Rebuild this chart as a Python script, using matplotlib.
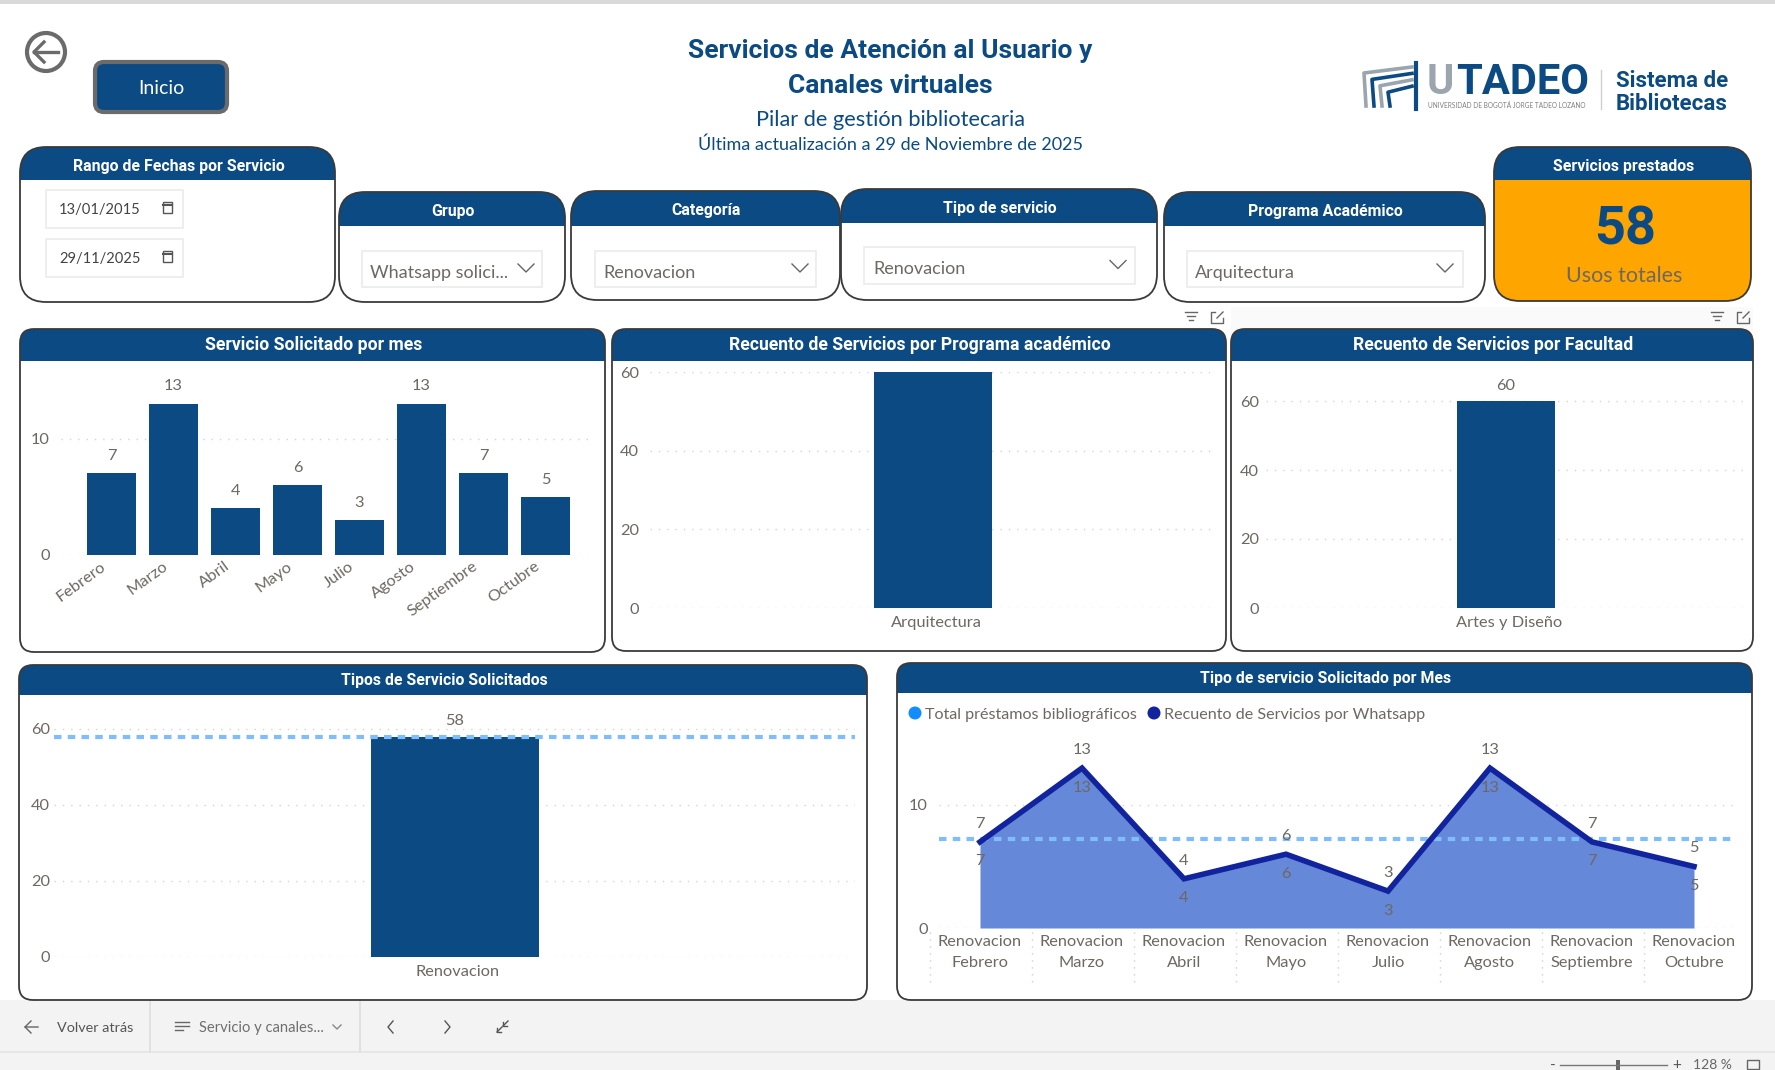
import matplotlib
matplotlib.use('Agg')
import matplotlib.pyplot as plt
from matplotlib.patches import FancyBboxPatch, Rectangle, Circle
from matplotlib.transforms import ScaledTranslation

W, H = 1775, 1070
NAVY = '#0B4A82'
GREY = '#6E6862'
TITLE_FONT = 'Roboto'
BODY_FONT = 'Lato'
LABEL_SIZE = 11.8

meses = ['Febrero', 'Marzo', 'Abril', 'Mayo', 'Julio', 'Agosto', 'Septiembre', 'Octubre']
servicios_mes = [7, 13, 4, 6, 3, 13, 7, 5]
programas = ['Arquitectura']
servicios_programa = [60]
facultades = ['Artes y Diseño']
servicios_facultad = [60]
tipos = ['Renovacion']
servicios_tipo = [58]
promedio_mes = 7.25

fig = plt.figure(figsize=(W / 100, H / 100), dpi=100, facecolor='white')
bg = fig.add_axes([0, 0, 1, 1])
bg.set_xlim(0, W)
bg.set_ylim(H, 0)
bg.axis('off')


def txt(x, y, s, size, color=GREY, ha='center', weight='normal', font=BODY_FONT):
    bg.text(x, y, s, fontsize=size, color=color, ha=ha, va='center', fontweight=weight, family=font)


def card(x0, y0, x1, y1, head, title, title_size=11.4, fill='white', radius=26, title_dy=2.5):
    outline = FancyBboxPatch((x0, y0), x1 - x0, y1 - y0, boxstyle=f'round,pad=0,rounding_size={radius}',
                             fc=fill, ec='none', zorder=1)
    bg.add_patch(outline)
    band = Rectangle((x0, y0), x1 - x0, head - y0, fc=NAVY, ec='none', zorder=2)
    bg.add_patch(band)
    band.set_clip_path(outline)
    bg.add_patch(FancyBboxPatch((x0, y0), x1 - x0, y1 - y0, boxstyle=f'round,pad=0,rounding_size={radius}',
                                fc='none', ec='#3A3A3A', lw=1.3, zorder=3))
    bg.text((x0 + x1) / 2 + 1, (y0 + head) / 2 + title_dy, title, color='white', fontsize=title_size,
            fontweight='bold', family=TITLE_FONT, ha='center', va='center', zorder=4)


def chevron(x, y, size=8, color='#666666'):
    bg.plot([x - size, x, x + size], [y - size / 2, y + size / 2, y - size / 2], color=color, lw=1, zorder=5)


def dropdown(x0, y0, x1, y1, label, text_x, chev_x):
    bg.add_patch(Rectangle((x0, y0), x1 - x0, y1 - y0, fc='white', ec='#EBEBEB', lw=1.2, zorder=4))
    bg.text(text_x, (y0 + y1) / 2 + 4, label, fontsize=13, color=GREY, family=BODY_FONT, va='center', zorder=5)
    chevron(chev_x, (y0 + y1) / 2 - 1)


def date_box(y0, y1, label):
    bg.add_patch(Rectangle((46, y0), 137, y1 - y0, fc='white', ec='#EBEBEB', lw=1.2, zorder=4))
    bg.text(59, (y0 + y1) / 2 + 1, label, fontsize=10.6, color='#444444', family=BODY_FONT, va='center', zorder=5)
    cy = (y0 + y1) / 2 - 2
    bg.add_patch(Rectangle((163, cy - 5), 9, 11, fc='white', ec='#555555', lw=1, zorder=5))
    bg.plot([163, 172], [cy - 2, cy - 2], color='#555555', lw=1.5, zorder=6)


def chart_axes(x0, x1, y_top, y_zero, ppu, center_px, unit_px, yticks, ypad=8):
    ax = fig.add_axes([x0 / W, 1 - y_zero / H, (x1 - x0) / W, (y_zero - y_top) / H])
    ax.patch.set_alpha(0)
    ax.set_xlim((x0 - center_px) / unit_px, (x1 - center_px) / unit_px)
    ax.set_ylim(0, (y_zero - y_top) / ppu)
    ax.set_yticks(yticks)
    ax.grid(axis='y', color='#D4D4D4', lw=1, ls=(0, (1, 5)))
    ax.set_axisbelow(True)
    for s in ax.spines.values():
        s.set_visible(False)
    ax.tick_params(length=0, labelcolor=GREY, labelsize=LABEL_SIZE)
    ax.tick_params(axis='y', pad=ypad)
    for lab in ax.get_yticklabels():
        lab.set_family(BODY_FONT)
    return ax


def shift_xlabels(ax, dx_px):
    offset = ScaledTranslation(dx_px * 0.72 / 72, 0, fig.dpi_scale_trans)
    for lab in ax.get_xticklabels():
        lab.set_transform(lab.get_transform() + offset)


def single_bar(ax, names, values, show_label=True):
    ax.bar(names, values, width=0.8, color=NAVY, clip_on=False)
    ax.tick_params(axis='x', pad=6)
    for lab in ax.get_xticklabels():
        lab.set_family(BODY_FONT)
    shift_xlabels(ax, 3)
    if show_label:
        for i, v in enumerate(values):
            ax.annotate(str(v), (i, v), xytext=(0, 8), textcoords='offset points', ha='center', color=GREY,
                        fontsize=LABEL_SIZE, family=BODY_FONT)


# page chrome
bg.add_patch(Rectangle((0, 0), W, 4, fc='#D9D9D9', ec='none'))
bg.add_patch(Rectangle((1231, 307), 522, 24, fc='#FAFAFA', ec='none'))
bg.add_patch(Rectangle((0, 1000), W, 70, fc='#F3F3F3', ec='none'))
bg.plot([0, W], [1052, 1052], color='#E4E4E4', lw=1.2)
for x in (150, 360):
    bg.plot([x, x], [1000, 1052], color='#DEDEDE', lw=1.2)

# back arrow and home button
bg.add_patch(Circle((46, 52), 19, fc='white', ec='#6B6B6B', lw=3))
bg.plot([34, 58], [52, 52], color='#6B6B6B', lw=2.4)
bg.plot([44, 34, 44], [42, 52, 62], color='#6B6B6B', lw=2.4)
bg.add_patch(FancyBboxPatch((95, 62), 132, 50, boxstyle='round,pad=0,rounding_size=9', fc=NAVY, ec='#6B6B6B', lw=3))
txt(161, 89, 'Inicio', 14, 'white')

# heading
txt(890, 51, 'Servicios de Atención al Usuario y', 19, NAVY, weight='bold', font=TITLE_FONT)
txt(890, 86, 'Canales virtuales', 19, NAVY, weight='bold', font=TITLE_FONT)
txt(890, 120, 'Pilar de gestión bibliotecaria', 15.7, NAVY)
txt(890, 145, 'Última actualización a 29 de Noviembre de 2025', 13, NAVY)

# logo
bg.plot([1416, 1416], [63, 109], color=NAVY, lw=3)
for i, col in enumerate(['#9AA5AE', NAVY, '#9AA5AE', NAVY]):
    off = i * 8
    bg.plot([1366 + off, 1364 + off, 1412], [106, 73 + off * 0.8, 67 + off * 0.8], color=col, lw=2.6)
txt(1427, 83, 'U', 30, '#9AA5AE', ha='left', weight='bold', font=TITLE_FONT)
txt(1456, 83, 'TADEO', 30, NAVY, ha='left', weight='bold', font=TITLE_FONT)
txt(1428, 106, 'UNIVERSIDAD DE BOGOTÁ JORGE TADEO LOZANO', 4.7, '#7D7D7D', ha='left')
bg.plot([1601, 1601], [70, 109], color='#CFCFCF', lw=1)
txt(1616, 81, 'Sistema de', 16, NAVY, ha='left', weight='bold', font=TITLE_FONT)
txt(1616, 104, 'Bibliotecas', 16, NAVY, ha='left', weight='bold', font=TITLE_FONT)

# slicers
card(20, 147, 335, 302, 180, 'Rango de Fechas por Servicio')
date_box(190, 228, '13/01/2015')
date_box(239, 277, '29/11/2025')
card(339, 192, 565, 302, 226, 'Grupo')
dropdown(362, 251, 542, 287, 'Whatsapp solici...', 370, 526)
card(571, 191, 840, 300, 226, 'Categoría')
dropdown(595, 251, 816, 287, 'Renovacion', 603, 800)
card(841, 189, 1157, 300, 223, 'Tipo de servicio')
dropdown(864, 247, 1135, 284, 'Renovacion', 873, 1118)
card(1164, 192, 1485, 302, 226, 'Programa Académico')
dropdown(1187, 251, 1463, 287, 'Arquitectura', 1195, 1445)
card(1494, 147, 1751, 301, 180, 'Servicios prestados', fill='#FFA500')
bg.text(1625, 230, '58', fontsize=39, color=NAVY, fontweight='bold', family=TITLE_FONT, ha='center', va='center', zorder=5)
bg.text(1624, 276, 'Usos totales', fontsize=15.5, color=GREY, family=BODY_FONT, ha='center', va='center', zorder=5)

# visual header icons
for fx, ex in ((1191, 1217), (1717, 1743)):
    for k, half in enumerate((6, 4, 2)):
        bg.plot([fx - half, fx + half], [312 + k * 4] * 2, color='#666666', lw=1)
    bg.plot([ex - 2, ex - 6, ex - 6, ex + 6, ex + 6], [312, 312, 323, 323, 318], color='#666666', lw=1)
    bg.plot([ex, ex + 6], [318, 312], color='#666666', lw=1)

# chart cards
card(20, 329, 605, 652, 361, 'Servicio Solicitado por mes', 12.7, radius=14, title_dy=0)
card(612, 329, 1226, 651, 361, 'Recuento de Servicios por Programa académico', 12.7, radius=14, title_dy=0)
card(1231, 329, 1753, 651, 361, 'Recuento de Servicios por Facultad', 12.7, radius=14, title_dy=0)
card(19, 665, 867, 1000, 695, 'Tipos de Servicio Solicitados', 11.4, radius=14, title_dy=0)
card(897, 663, 1752, 1000, 693, 'Tipo de servicio Solicitado por Mes', 11.4, radius=14, title_dy=0)

# monthly bars
ax1 = chart_axes(61, 592, 385, 555, 11.65, 111.5, 62, [0, 10])
ax1.bar(meses, servicios_mes, width=0.777, color=NAVY)
for i, v in enumerate(servicios_mes):
    ax1.annotate(str(v), (i, v), xytext=(0, 9.5), textcoords='offset points', ha='center', color=GREY,
                 fontsize=LABEL_SIZE, family=BODY_FONT)
ax1.set_xticks(range(len(meses)))
ax1.set_xticklabels(meses, rotation=36, ha='right', rotation_mode='anchor', family=BODY_FONT, fontsize=LABEL_SIZE)
ax1.tick_params(axis='x', pad=3)
shift_xlabels(ax1, -11)

# single bar charts
ax2 = chart_axes(650, 1217, 372, 608, 3.93, 933, 147.5, [0, 20, 40, 60])
single_bar(ax2, programas, servicios_programa, show_label=False)
ax3 = chart_axes(1266, 1743, 372, 608, 3.45, 1506, 123.5, [0, 20, 40, 60], ypad=5)
single_bar(ax3, facultades, servicios_facultad)
ax4 = chart_axes(54, 855, 715, 957, 3.8, 455, 210, [0, 20, 40, 60], ypad=3)
single_bar(ax4, tipos, servicios_tipo)
ax4.axhline(servicios_tipo[0], color='#7FBDFF', lw=3, ls=(0, (1.8, 1.5)))

# area and line chart
ax5 = chart_axes(939, 1734, 730, 928, 12.3, 980, 102, [0, 10])
xpos = list(range(len(meses)))
ax5.fill_between(xpos, servicios_mes, color='#6588D9', lw=0)
ax5.axhline(promedio_mes, color='#7FBDFF', lw=3, ls=(0, (1.8, 1.5)))
ax5.plot(xpos, servicios_mes, color='#12239E', lw=4, solid_joinstyle='miter')
for i, v in enumerate(servicios_mes):
    ax5.annotate(str(v), (i, v), xytext=(0, 13), textcoords='offset points', ha='center', va='center', color=GREY,
                 fontsize=LABEL_SIZE, family=BODY_FONT)
    ax5.annotate(str(v), (i, v), xytext=(0, -14), textcoords='offset points', ha='center', va='center', color=GREY,
                 fontsize=LABEL_SIZE, family=BODY_FONT)
ax5.set_xticks(xpos)
ax5.set_xticklabels([f'{tipos[0]}\n{m}' for m in meses], family=BODY_FONT, fontsize=LABEL_SIZE, linespacing=1.65)
ax5.tick_params(axis='x', pad=5)
for i in range(len(meses)):
    sep = 929.5 + 102 * i
    bg.plot([sep, sep], [932, 982], color='#CFCFCF', lw=1, ls=(0, (1, 4)), zorder=4)

# legend
bg.add_patch(Circle((915, 713), 6.5, fc='#118DFF', ec='none', zorder=5))
bg.text(925, 715, 'Total préstamos bibliográficos', fontsize=11.6, color=GREY, family=BODY_FONT, va='center', zorder=5)
bg.add_patch(Circle((1154, 713), 6.5, fc='#12239E', ec='none', zorder=5))
bg.text(1164, 715, 'Recuento de Servicios por Whatsapp', fontsize=11.6, color=GREY, family=BODY_FONT, va='center', zorder=5)

# bottom bar
bg.plot([38, 25, 31], [1027, 1027, 1021], color='#666666', lw=1)
bg.plot([25, 31], [1027, 1033], color='#666666', lw=1)
txt(57, 1028, 'Volver atrás', 10.4, '#555555', ha='left')
for k, half in enumerate((7, 7, 4)):
    bg.plot([175, 175 + 2 * half], [1022 + k * 4] * 2, color='#666666', lw=1)
txt(199, 1028, 'Servicio y canales...', 10.6, '#6F6F6F', ha='left')
bg.plot([333, 337, 341], [1025, 1029, 1025], color='#888888', lw=1)
bg.plot([393, 388, 393], [1021, 1027, 1033], color='#555555', lw=1)
bg.plot([445, 450, 445], [1021, 1027, 1033], color='#555555', lw=1)
bg.plot([497, 502], [1032, 1027], color='#555555', lw=1)
bg.plot([497, 497, 501], [1028, 1032, 1032], color='#555555', lw=1)
bg.plot([503, 508], [1026, 1021], color='#555555', lw=1)
bg.plot([503, 503, 507], [1022, 1026, 1026], color='#555555', lw=1)

# zoom control
txt(1553, 1066, '-', 11, '#555555')
bg.plot([1560, 1667], [1065, 1065], color='#777777', lw=1)
bg.add_patch(Rectangle((1616, 1060), 4, 10, fc='#666666', ec='none'))
txt(1677, 1065, '+', 11, '#555555')
txt(1712, 1065, '128 %', 10, '#666666')
bg.add_patch(Rectangle((1747, 1060), 12, 9, fc='none', ec='#666666', lw=1))

fig.savefig('out.png', dpi=100)
